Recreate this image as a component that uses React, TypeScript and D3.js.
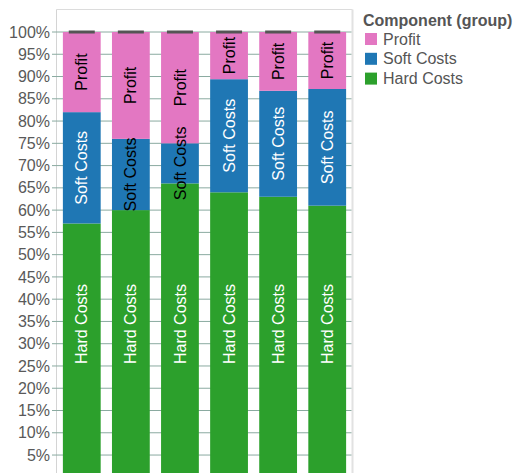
import React from "react";
import * as d3 from "d3";

const categories = ["A", "B", "C", "D", "E", "F"];
const seriesNames = ["Hard Costs", "Soft Costs", "Profit"];
const hardCosts = [57, 60, 66, 64, 63, 61];
const softCosts = [25, 16, 9, 25.4, 23.8, 26.2];
const profit = [18, 24, 25, 10.6, 13.2, 12.8];
const legendItems = ["Profit", "Soft Costs", "Hard Costs"];
const tickValues = d3.range(5, 101, 5);

const W = 517;
const H = 473;
const FONT = "'Liberation Sans', Arial, Helvetica, sans-serif";
const colors: Record<string, string> = {
  "Hard Costs": "#2ca02c",
  "Soft Costs": "#1f77b4",
  Profit: "#e377c2",
};
const labelColor: Record<string, string> = {
  "Hard Costs": "#ffffff",
  "Soft Costs": "#ffffff",
  Profit: "#000000",
};

export default function App() {
  const plotLeft = 56.5;
  const plotRight = 352.5;
  const plotTop = 9.5;
  const x = d3
    .scaleBand<string>()
    .domain(categories)
    .range([plotLeft, plotRight])
    .paddingInner(0.23)
    .paddingOuter(0.13);
  const y = d3.scaleLinear().domain([0, 100]).range([477.3, 32]);

  const rows = categories.map((c, i) => ({
    cat: c,
    "Hard Costs": hardCosts[i],
    "Soft Costs": softCosts[i],
    Profit: profit[i],
  }));
  const stack = d3.stack<any>().keys(seriesNames)(rows);
  const fmt = (v: number) => `${v}%`;
  const fs = 16;

  return (
    <svg
      width={W}
      height={H}
      style={{ position: "absolute", left: 0, top: 0, background: "#fff" }}
      fontFamily={FONT}
    >
      {/* plot frame */}
      <line x1={plotLeft} x2={plotRight} y1={plotTop} y2={plotTop} stroke="#dcdcdc" />
      <line x1={plotLeft} x2={plotLeft} y1={plotTop} y2={H} stroke="#d4d4d4" />
      <line x1={plotRight} x2={plotRight} y1={plotTop} y2={H} stroke="#e2e2e2" strokeWidth={2} />
      {/* grid + ticks */}
      {tickValues.map((t) => (
        <g key={t}>
          <line x1={52} x2={plotRight - 1} y1={y(t)} y2={y(t)} stroke="#8aaaa0" strokeWidth={1} />
          <text x={50} y={y(t)} dy="0.35em" textAnchor="end" fontSize={fs} fill="#595959">
            {fmt(t)}
          </text>
        </g>
      ))}
      {/* bars */}
      {stack.map((layer) =>
        layer.map((d, i) => {
          const x0 = x(categories[i])!;
          const top = y(d[1]);
          const bot = y(d[0]);
          return (
            <rect
              key={layer.key + i}
              x={x0}
              y={top}
              width={x.bandwidth()}
              height={bot - top}
              fill={colors[layer.key]}
            />
          );
        })
      )}
      {/* labels */}
      {stack.map((layer) =>
        layer.map((d, i) => {
          const cx = x(categories[i])! + x.bandwidth() / 2;
          const top = y(d[1]);
          const segH = y(d[0]) - top;
          const textLen = layer.key === "Profit" ? 38 : layer.key === "Soft Costs" ? 74 : 80;
          const fits = segH >= textLen;
          const cy = layer.key === "Hard Costs" ? 324 : (top + y(d[0])) / 2;
          const fill = fits ? labelColor[layer.key] : "#000000";
          return (
            <text
              key={"t" + layer.key + i}
              transform={`translate(${cx},${cy}) rotate(-90)`}
              textAnchor="middle"
              dy="0.35em"
              fontSize={fs}
              fill={fill}
            >
              {layer.key}
            </text>
          );
        })
      )}
      {/* total caps */}
      {categories.map((c) => (
        <rect
          key={"cap" + c}
          x={x(c)! + x.bandwidth() / 2 - 13}
          y={y(100) - 1.5}
          width={26}
          height={3}
          fill="#555555"
        />
      ))}
      {/* legend */}
      <text x={363} y={26} fontSize={fs} fontWeight="bold" fill="#555555">
        Component (group)
      </text>
      {legendItems.map((k, i) => (
        <g key={k} transform={`translate(365,${33 + i * 19.8})`}>
          <rect width={12} height={12} fill={colors[k]} />
          <text x={18} y={6} dy="0.35em" fontSize={fs} fill="#555555">
            {k}
          </text>
        </g>
      ))}
    </svg>
  );
}
